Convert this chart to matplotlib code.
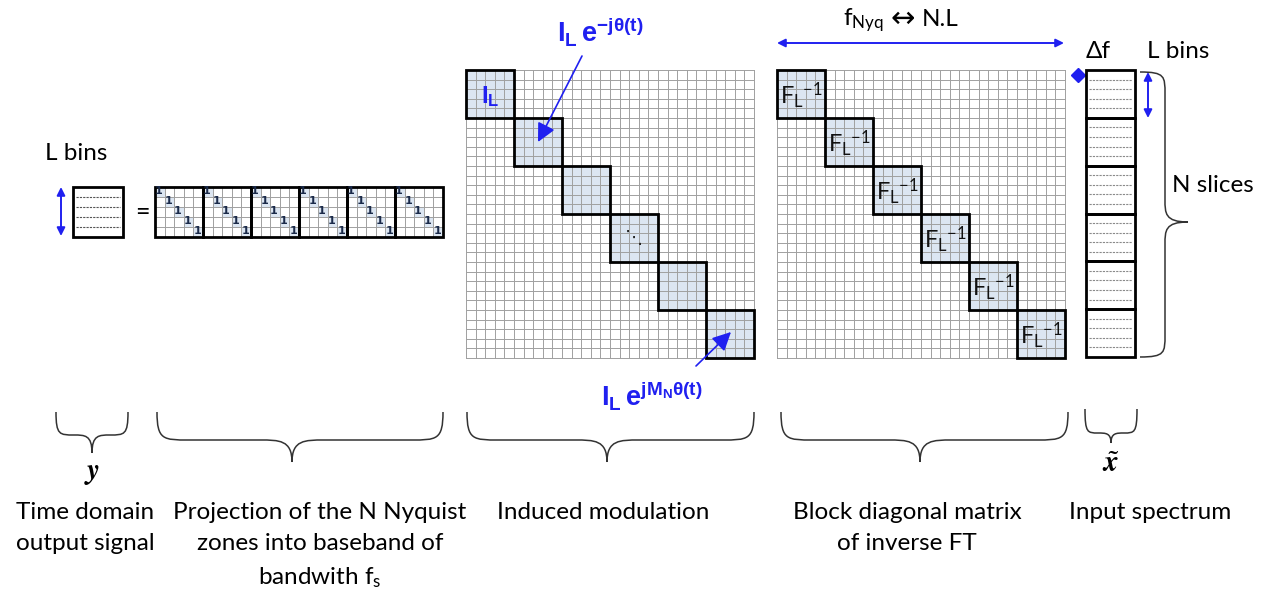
import matplotlib
matplotlib.use("Agg")
import matplotlib.pyplot as plt
from matplotlib.patches import Rectangle, PathPatch
from matplotlib.path import Path

# ---- diagram content ----
n_blocks = 6
cells_per_block = 5
bottom_labels = [
    "Time domain\noutput signal",
    "Projection of the N Nyquist\nzones into baseband of\nbandwith $\\mathregular{f_s}$",
    "Induced modulation",
    "Block diagonal matrix\nof inverse FT",
    "Input spectrum",
]
brace_symbols = [r"$\boldsymbol{y}$", "", "", "", r"$\tilde{\boldsymbol{x}}$"]
block_label = r"$\mathregular{F_L{}^{-1}}$"
mod_labels = [r"$\mathregular{I_L}$", "", "", "", "", ""]
mod_top = r"$\mathregular{I_L\,e^{-j\theta(t)}}$"
mod_bottom = r"$\mathregular{I_L\,e^{jM_N\theta(t)}}$"
proj_entry = "1"

BLUE = "#2020f0"
SHADE = "#dce6f2"
GRID = "#a0a0a0"
FONT = ["Lato", "DejaVu Sans"]
FS = 17.5

fig = plt.figure(figsize=(12.69, 5.91), dpi=100)
ax = fig.add_axes([0, 0, 1, 1])
ax.set_xlim(0, 1269)
ax.set_ylim(591, 0)
ax.axis("off")


def grid_matrix(x0, y0, cw, ch, ncols, nrows):
    for i in range(ncols + 1):
        ax.plot([x0 + i * cw] * 2, [y0, y0 + nrows * ch], color=GRID, lw=0.7, zorder=2)
    for j in range(nrows + 1):
        ax.plot([x0, x0 + ncols * cw], [y0 + j * ch] * 2, color=GRID, lw=0.7, zorder=2)


def block_diag(x0, y0, size, labels, label_kw):
    bs = size / n_blocks
    n = n_blocks * cells_per_block
    cw = size / n
    for b in range(n_blocks):
        ax.add_patch(Rectangle((x0 + b * bs, y0 + b * bs), bs, bs, fc=SHADE, ec="none", zorder=1))
    grid_matrix(x0, y0, cw, cw, n, n)
    for b in range(n_blocks):
        ax.add_patch(Rectangle((x0 + b * bs, y0 + b * bs), bs, bs, fc="none", ec="black", lw=2, zorder=3))
        if labels[b]:
            ax.text(x0 + (b + 0.5) * bs, y0 + (b + 0.55) * bs, labels[b], ha="center", va="center",
                    zorder=4, **label_kw)


def brace_h(x0, x1, xtip, ytop, ymid, ybot, r=30):
    verts = [(x0, ytop), (x0, ymid), (x0 + 0.2 * r, ymid), (x0 + r, ymid),
             (xtip - r, ymid),
             (xtip - 0.4 * r, ymid), (xtip, ymid), (xtip, ybot),
             (xtip, ymid), (xtip + 0.4 * r, ymid), (xtip + r, ymid),
             (x1 - r, ymid),
             (x1 - 0.2 * r, ymid), (x1, ymid), (x1, ytop)]
    codes = [Path.MOVETO, Path.CURVE4, Path.CURVE4, Path.CURVE4, Path.LINETO,
             Path.CURVE4, Path.CURVE4, Path.CURVE4, Path.CURVE4, Path.CURVE4, Path.CURVE4,
             Path.LINETO, Path.CURVE4, Path.CURVE4, Path.CURVE4]
    ax.add_patch(PathPatch(Path(verts, codes), fc="none", ec="#333333", lw=1.1))


def brace_v(y0, y1, ytip, xl, xmid, xr, r=22):
    verts = [(xl, y0), (xmid, y0), (xmid, y0 + 0.2 * r), (xmid, y0 + r),
             (xmid, ytip - r),
             (xmid, ytip - 0.4 * r), (xmid, ytip), (xr, ytip),
             (xmid, ytip), (xmid, ytip + 0.4 * r), (xmid, ytip + r),
             (xmid, y1 - r),
             (xmid, y1 - 0.2 * r), (xmid, y1), (xl, y1)]
    codes = [Path.MOVETO, Path.CURVE4, Path.CURVE4, Path.CURVE4, Path.LINETO,
             Path.CURVE4, Path.CURVE4, Path.CURVE4, Path.CURVE4, Path.CURVE4, Path.CURVE4,
             Path.LINETO, Path.CURVE4, Path.CURVE4, Path.CURVE4]
    ax.add_patch(PathPatch(Path(verts, codes), fc="none", ec="#333333", lw=1.1))


def darrow(p0, p1):
    ax.annotate("", xy=p1, xytext=p0,
                arrowprops=dict(arrowstyle="<|-|>", color=BLUE, lw=1.4, mutation_scale=12,
                                shrinkA=0, shrinkB=0))


# ---- output vector y ----
for k in range(1, cells_per_block):
    ax.plot([76, 120], [187 + 10 * k] * 2, color="#555555", lw=0.8, ls=(0, (2, 1)), zorder=2)
ax.add_patch(Rectangle((73, 187), 50, 50, fc="none", ec="black", lw=2, zorder=3))
darrow((61, 187), (61, 236))
ax.text(45, 153, "L bins", fontsize=FS, family=FONT, va="center")
ax.text(142, 212, "=", fontsize=18, family=FONT, ha="center", va="center")

# ---- projection matrix ----
px0, py0, pw, ph = 155, 187, 288, 50
pcw = pw / (n_blocks * cells_per_block)
pch = ph / cells_per_block
for b in range(n_blocks):
    for k in range(cells_per_block):
        ax.add_patch(Rectangle((px0 + (b * cells_per_block + k) * pcw, py0 + k * pch), pcw, pch,
                               fc=SHADE, ec="none", zorder=1))
        ax.text(px0 + (b * cells_per_block + k + 0.4) * pcw, py0 + (k + 0.45) * pch, proj_entry,
                fontsize=8, fontweight="bold", color="#1a2a4a", ha="center", va="center", zorder=4)
grid_matrix(px0, py0, pcw, pch, n_blocks * cells_per_block, cells_per_block)
for b in range(n_blocks):
    ax.add_patch(Rectangle((px0 + b * cells_per_block * pcw, py0), cells_per_block * pcw, ph,
                           fc="none", ec="black", lw=2, zorder=3))

# ---- induced modulation matrix ----
block_diag(466, 70, 288, mod_labels, dict(fontsize=17, color=BLUE, fontweight="bold",
                                          family="Liberation Sans"))
ax.text(634, 238, "⋱", fontsize=13, family="DejaVu Sans", color="#222222",
        ha="center", va="center", zorder=4)
ax.text(600, 31, mod_top, fontsize=19.5, color=BLUE, fontweight="bold", family="Liberation Sans",
        ha="center", va="center")
ax.annotate("", xy=(538, 142), xytext=(582, 56),
            arrowprops=dict(arrowstyle="-|>", color=BLUE, lw=1.2, mutation_scale=28,
                            shrinkA=0, shrinkB=0))
ax.text(652, 396, mod_bottom, fontsize=19.5, color=BLUE, fontweight="bold", family="Liberation Sans",
        ha="center", va="center")
ax.annotate("", xy=(731, 332), xytext=(696, 366),
            arrowprops=dict(arrowstyle="-|>", color=BLUE, lw=1.2, mutation_scale=28,
                            shrinkA=0, shrinkB=0))

# ---- block diagonal inverse FT ----
block_diag(777, 70, 288, [block_label] * n_blocks, dict(fontsize=17, color="#111111", family=FONT))
ax.text(884, 20, r"$\mathregular{f_{Nyq}}$", fontsize=FS, family=FONT, ha="right", va="center")
ax.text(903, 19, "↔", fontsize=21, family="DejaVu Sans", ha="center", va="center")
ax.text(922, 20, "N.L", fontsize=FS, family=FONT, ha="left", va="center")
darrow((777, 43), (1064, 43))

# ---- input spectrum ----
sx0, sy0, sw, sh = 1086, 70, 49, 287
slice_h = sh / n_blocks
for b in range(n_blocks):
    for k in range(1, cells_per_block):
        yy = sy0 + b * slice_h + k * slice_h / cells_per_block
        ax.plot([sx0 + 3, sx0 + sw - 3], [yy, yy], color="#8a8a8a", lw=0.8, ls=(0, (2, 1)), zorder=2)
    ax.add_patch(Rectangle((sx0, sy0 + b * slice_h), sw, slice_h, fc="none", ec="black", lw=2, zorder=3))
ax.plot([1078], [75], marker="D", color=BLUE, ms=7)
ax.text(1098, 52, "Δf", fontsize=FS, family=FONT, ha="center", va="center")
ax.text(1178, 52, "L bins", fontsize=FS, family=FONT, ha="center", va="center")
darrow((1148, 72), (1148, 118))
brace_v(72, 357, 222, 1140, 1165, 1188, r=22)
ax.text(1213, 185, "N slices", fontsize=FS, family=FONT, ha="center", va="center")

# ---- braces and captions ----
brace_geom = [(56, 128, 92, 412, 435, 453), (157, 443, 292, 412, 440, 462),
              (467, 754, 607, 412, 440, 462), (781, 1068, 920, 412, 440, 462),
              (1085, 1137, 1111, 409, 433, 443)]
symbol_y = [473, 0, 0, 0, 464]
label_x = [85, 320, 603, 907, 1150]
for (x0, x1, xt, yt, ym, yb), lab, sym, sy, lx in zip(brace_geom, bottom_labels, brace_symbols,
                                                       symbol_y, label_x):
    r = min(32, (x1 - x0) / 4)
    brace_h(x0, x1, xt, yt, ym, yb, r=r)
    if sym:
        ax.text(xt, sy, sym, fontsize=21, ha="center", va="center", math_fontfamily="stix")
    ax.text(lx, 502, lab, fontsize=FS, family=FONT, ha="center", va="top", linespacing=1.6)

fig.savefig("out.png", dpi=100)
